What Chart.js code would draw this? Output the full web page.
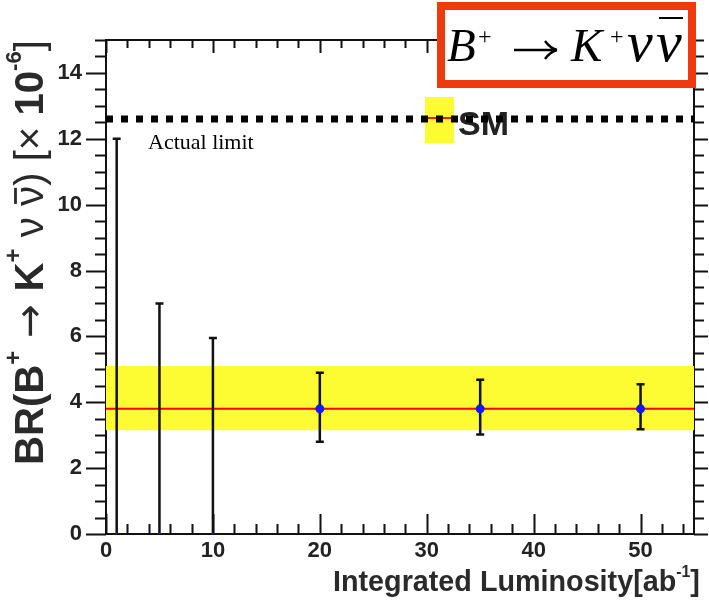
<!DOCTYPE html>
<html>
<head>
<meta charset="utf-8">
<script src="https://cdn.jsdelivr.net/npm/chart.js@4.4.0/dist/chart.umd.min.js"></script>
<style>
  html, body { margin:0; padding:0; background:#fff; }
  #wrap { width:709px; height:602px; position:relative; }
</style>
</head>
<body>
<div id="wrap"><canvas id="c" width="709" height="602"></canvas></div>
<script>
// data
const lumi = [1, 5, 10, 20, 35, 50];            // ab^-1
const brCentral = [0, 0, 0, 3.8, 3.8, 3.8];     // x 10^-6
const brUpper = [12, 7, 5.95, 4.9, 4.68, 4.55];
const brLower = [0, 0, 0, 2.8, 3.02, 3.18];
const smCentral = 3.8;
const smBand = [3.15, 5.1];
const actualLimit = 12.6;
const xLimits = [0, 55];
const yLimits = [0, 15];
const xTickLabels = [0, 10, 20, 30, 40, 50];
const yTickLabels = [0, 2, 4, 6, 8, 10, 12, 14];
const xMinorStep = 2, yMinorStep = 0.5;

const SANS = '"Liberation Sans", Arial, sans-serif';
const SERIF = '"Liberation Serif", "Times New Roman", serif';
const YELLOW = '#fdfc33';

// rich text along a baseline, returns width (or draws)
function richText(ctx, segs, size, x0, y0, draw){
  let x = x0;
  segs.forEach(sg=>{
    const fs = size * (sg.s || 1);
    ctx.font = (sg.w || 'normal') + ' ' + fs + 'px ' + (sg.fam || SANS);
    const w = ctx.measureText(sg.t).width;
    if(draw){
      ctx.fillText(sg.t, x, y0 - size * (sg.dy || 0));
      if(sg.bar){
        ctx.fillRect(x + w*0.1, y0 - size*0.72, w*0.8, size*0.07);
      }
    }
    x += w;
  });
  return x - x0;
}
function fitRich(ctx, segs, base, len){
  const w = richText(ctx, segs, base, 0, 0, false);
  return base * len / w;
}

const frame = {
  id: 'frame',
  beforeDatasetsDraw(chart){
    const {ctx, chartArea:a, scales:{x, y}} = chart;
    ctx.save();
    ctx.strokeStyle = '#111';
    ctx.lineWidth = 2;
    ctx.strokeRect(a.left, a.top, a.right - a.left, a.bottom - a.top);
    ctx.beginPath();
    for(let v = xLimits[0]; v <= xLimits[1]; v += xMinorStep){
      const px = Math.round(x.getPixelForValue(v)) + 0.5;
      const major = v % 10 === 0;
      ctx.moveTo(px, a.bottom); ctx.lineTo(px, a.bottom - (major ? 20 : 10));
      ctx.moveTo(px, a.top); ctx.lineTo(px, a.top + (major ? 13 : 8));
    }
    for(let v = yLimits[0]; v <= yLimits[1]; v += yMinorStep){
      const py = Math.round(y.getPixelForValue(v)) + 0.5;
      const major = v % 2 === 0;
      ctx.moveTo(a.left, py); ctx.lineTo(a.left - (major ? 20 : 11), py);
      ctx.moveTo(a.right, py); ctx.lineTo(a.right + (major ? 14 : 10), py);
    }
    ctx.stroke();

    // SM legend box (under the dotted line)
    ctx.fillStyle = YELLOW;
    ctx.fillRect(425, 97, 29, 46);
    ctx.fillStyle = '#ff1a00';
    ctx.fillRect(425, 117, 29, 2);
    ctx.fillStyle = '#222';
    ctx.font = 'bold 34px ' + SANS;
    ctx.fillText('SM', 458, 135);
    ctx.restore();
  },
  beforeDatasetDraw(chart, args){
    if(args.index !== 4) return;
    const {ctx, chartArea:a, scales:{x, y}} = chart;
    ctx.save();
    ctx.beginPath(); ctx.rect(a.left, a.top, a.right - a.left, a.bottom - a.top); ctx.clip();
    ctx.strokeStyle = '#111';
    ctx.lineWidth = 2.5;
    ctx.beginPath();
    lumi.forEach((l, i)=>{
      const px = x.getPixelForValue(l);
      const t = y.getPixelForValue(brUpper[i]);
      const b = y.getPixelForValue(brLower[i]);
      ctx.moveTo(px, t); ctx.lineTo(px, b);
      ctx.moveTo(px - 4, t); ctx.lineTo(px + 4, t);
      if(brLower[i] > 0){ ctx.moveTo(px - 4, b); ctx.lineTo(px + 4, b); }
    });
    ctx.stroke();
    ctx.restore();
  },
  afterDraw(chart){
    const {ctx} = chart;
    ctx.save();
    ctx.fillStyle = '#000';
    ctx.textBaseline = 'alphabetic';

    // "Actual limit"
    ctx.font = '22px ' + SERIF;
    ctx.fillText('Actual limit', 148, 149);

    // decay title box
    ctx.fillStyle = '#fff';
    ctx.fillRect(441, 6, 251, 78);
    ctx.strokeStyle = '#ee3a0c';
    ctx.lineWidth = 8;
    ctx.strokeRect(441, 6, 251, 78);
    ctx.fillStyle = '#000';
    ctx.font = 'italic 47px ' + SERIF;
    ctx.fillText('B', 447, 61);
    ctx.fillText('K', 571, 61);
    ctx.font = '24px ' + SERIF;
    ctx.fillText('+', 478, 44);
    ctx.fillText('+', 610, 44);
    // long arrow
    ctx.strokeStyle = '#000';
    ctx.lineWidth = 2.4;
    ctx.beginPath();
    ctx.moveTo(514, 50); ctx.lineTo(555, 50);
    ctx.moveTo(545, 41); ctx.quadraticCurveTo(550, 48, 557, 50);
    ctx.moveTo(545, 59); ctx.quadraticCurveTo(550, 52, 557, 50);
    ctx.stroke();
    ctx.font = 'italic 58px ' + SERIF;
    ctx.fillText('\u03bd', 627, 61);
    ctx.fillText('\u03bd', 656, 61);
    ctx.fillRect(659, 17, 24, 2);

    // axis titles
    ctx.fillStyle = '#2a2a2a';
    const ySegs = [
      {t:'BR(B', w:'bold'},
      {t:'+', w:'bold', s:0.6, dy:0.55},
      {t:' \u2192 ', w:'normal', fam:'"DejaVu Sans", sans-serif'},
      {t:'K', w:'bold'},
      {t:'+', w:'bold', s:0.6, dy:0.55},
      {t:' \u03bd ', w:'normal'},
      {t:'\u03bd', w:'normal', bar:true},
      {t:') [\u00d7 ', w:'normal'},
      {t:'10', w:'bold'},
      {t:'-6', w:'bold', s:0.55, dy:0.55},
      {t:']', w:'normal'}
    ];
    const ys = fitRich(ctx, ySegs, 30, 425);
    ctx.save();
    ctx.translate(43, 465);
    ctx.rotate(-Math.PI/2);
    richText(ctx, ySegs, ys, 0, 0, true);
    ctx.restore();

    const xSegs = [
      {t:'Integrated Luminosity[ab', w:'bold'},
      {t:'-1', w:'bold', s:0.55, dy:0.5},
      {t:']', w:'bold'}
    ];
    const xs = fitRich(ctx, xSegs, 28, 367);
    richText(ctx, xSegs, xs, 700 - 367, 591, true);
    ctx.restore();
  }
};

const tickFont = {family: SANS, size: 22, weight: 'bold'};

new Chart(document.getElementById('c'), {
  type: 'scatter',
  data: {
    datasets: [
      { // SM band upper edge, filled to lower edge
        data: xLimits.map(v=>({x:v, y:smBand[1]})),
        showLine: true, borderWidth: 0, pointRadius: 0,
        backgroundColor: YELLOW, fill: '+1', order: 4
      },
      {
        data: xLimits.map(v=>({x:v, y:smBand[0]})),
        showLine: true, borderWidth: 0, pointRadius: 0, fill: false, order: 4
      },
      { // SM central value
        data: xLimits.map(v=>({x:v, y:smCentral})),
        showLine: true, borderColor: '#ff0000', borderWidth: 2, pointRadius: 0, order: 3
      },
      { // actual limit
        data: xLimits.map(v=>({x:v, y:actualLimit})),
        showLine: true, borderColor: '#000', borderWidth: 7, borderDash: [7, 8],
        borderCapStyle: 'butt', pointRadius: 0, order: 2
      },
      { // expected measurements
        data: lumi.map((l, i)=>({x:l, y:brCentral[i]})),
        showLine: false, order: 0,
        pointRadius: c => brCentral[c.dataIndex] > 0 ? 4.5 : 1.5,
        pointBackgroundColor: '#1414ff', pointBorderWidth: 0
      }
    ]
  },
  options: {
    responsive: false,
    animation: false,
    devicePixelRatio: 1,
    layout: { padding: { top: 40, right: 15, left: 0, bottom: 0 } },
    plugins: { legend: {display:false}, tooltip: {enabled:false} },
    scales: {
      x: {
        type: 'linear', min: xLimits[0], max: xLimits[1],
        afterFit: s => { s.height = 602 - 40 - 494; },
        afterBuildTicks: s => { s.ticks = xTickLabels.map(v=>({value:v})); },
        grid: { display: false, drawTicks: false },
        border: { display: false },
        ticks: { color: '#222', font: tickFont, padding: 4, maxRotation: 0, autoSkip: false }
      },
      y: {
        type: 'linear', min: yLimits[0], max: yLimits[1],
        afterFit: s => { s.width = 106; },
        afterBuildTicks: s => { s.ticks = yTickLabels.map(v=>({value:v})); },
        grid: { display: false, drawTicks: false },
        border: { display: false },
        ticks: { color: '#222', font: tickFont, padding: 24, autoSkip: false }
      }
    }
  },
  plugins: [frame]
});
</script>
</body>
</html>
